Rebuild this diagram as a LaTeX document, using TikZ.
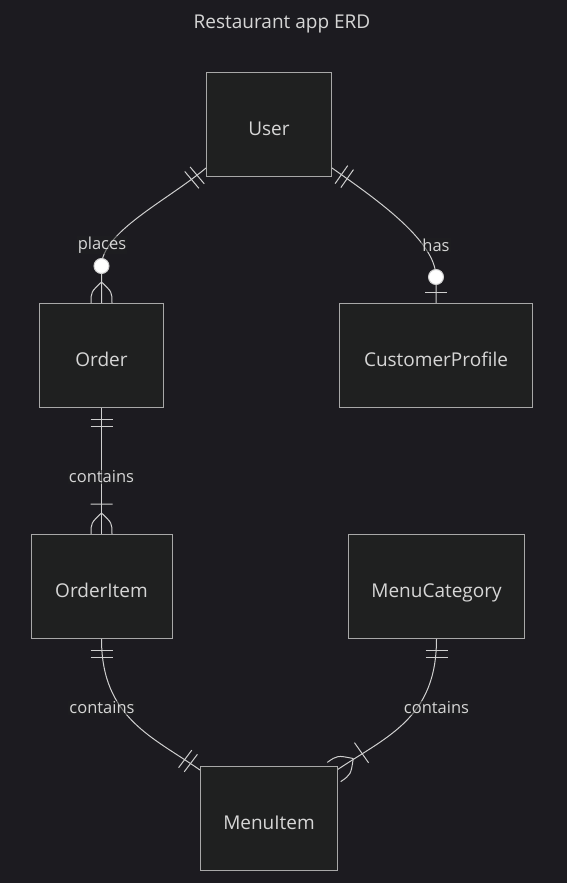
\documentclass[tikz,border=0pt]{standalone}
\usepackage{fontspec}
\setmainfont{Open Sans}
\usetikzlibrary{calc}
\definecolor{canvas}{HTML}{1C1B20}
\definecolor{boxfill}{HTML}{1F2020}
\definecolor{boxline}{HTML}{A8A8A8}
\definecolor{relline}{HTML}{CFCFCF}
\definecolor{txtgrey}{HTML}{D6D6D6}
\pgfdeclarelayer{back}
\pgfdeclarelayer{edges}
\pgfsetlayers{back,edges,main}
\tikzset{
  entity/.style={draw=boxline, fill=boxfill, text=txtgrey, line width=1pt, minimum height=104pt, text height=21pt, text depth=0pt, font=\fontsize{19}{22}\selectfont},
  rel/.style={draw=relline, line width=1pt},
  rellabel/.style={fill=boxfill, fill opacity=0.5, text opacity=1, text=txtgrey, inner sep=1pt, font=\fontsize{16.5}{19}\selectfont},
  onlyone/.pic={\draw[rel] (11.5,-11) -- (11.5,11) (18.5,-11) -- (18.5,11);},
  zeroone/.pic={\draw[rel] (11,-11) -- (11,11); \draw[rel, fill=white] (26,0) circle (7.5pt);},
  onemany/.pic={\draw[rel] (30,-11) -- (30,11) (21,0) .. controls (11,10.5) .. (0,10.5) (21,0) .. controls (11,-10.5) .. (0,-10.5);},
  zeromany/.pic={\draw[rel] (21,0) .. controls (11,10.5) .. (0,10.5) (21,0) .. controls (11,-10.5) .. (0,-10.5); \draw[rel, fill=white] (37,0) circle (7.5pt);}
}

\begin{document}
\begin{tikzpicture}[x=1pt, y=1pt]
    \useasboundingbox (0,0) rectangle (567,-883);
    \begin{pgfonlayer}{back}
    \fill[canvas] (0,0) rectangle (567,-883);
    \end{pgfonlayer}

    \node[text=txtgrey, font=\fontsize{19}{23}\selectfont] at (282,-24) (title) {Restaurant app ERD};

    \node[entity, minimum width=125pt] at (269,-124.5) (User) {User};
    \node[entity, minimum width=124pt] at (101.5,-355.5) (Order) {Order};
    \node[entity, minimum width=193pt] at (436,-355.5) (CustomerProfile) {CustomerProfile};
    \node[entity, minimum width=141pt] at (101.5,-586.5) (OrderItem) {OrderItem};
    \node[entity, minimum width=176pt] at (436.5,-586.5) (MenuCategory) {MenuCategory};
    \node[entity, minimum width=137pt] at (269,-818.5) (MenuItem) {MenuItem};

    \begin{pgfonlayer}{edges}
    % User -- Order
    \coordinate (uo) at ($(User.south west)+(0,9)$);
    \draw[rel] (uo) .. controls (168,-200) and (101.5,-232) .. (101.5,-266) -- (Order.north);
    \pic[rotate=220] at (uo) {onlyone};
    \pic[rotate=90] at (Order.north) {zeromany};

    % User -- CustomerProfile
    \coordinate (uc) at ($(User.south east)+(0,9)$);
    \draw[rel] (uc) .. controls (373,-197) and (436,-240) .. (436,-277) -- (CustomerProfile.north);
    \pic[rotate=-35] at (uc) {onlyone};
    \pic[rotate=90] at (CustomerProfile.north) {zeroone};

    % Order -- OrderItem
    \draw[rel] (Order.south) -- (Order.south |- OrderItem.north);
    \pic[rotate=-90] at (Order.south) {onlyone};
    \pic[rotate=90] at (Order.south |- OrderItem.north) {onemany};

    % OrderItem -- MenuItem
    \coordinate (im) at ($(MenuItem.north west)+(0,-4)$);
    \draw[rel] (OrderItem.south) .. controls (101.5,-718) and (153,-737) .. (im);
    \pic[rotate=-90] at (OrderItem.south) {onlyone};
    \pic[rotate=143] at (im) {onlyone};

    % MenuCategory -- MenuItem
    \coordinate (cm) at ($(MenuItem.north east)+(-4,-6)$);
    \draw[rel] (MenuCategory.south) .. controls (436.5,-720) and (385,-737) .. (cm);
    \pic[rotate=-90] at (MenuCategory.south) {onlyone};
    \pic[rotate=35, scale=1.12] at (cm) {onemany};
    \end{pgfonlayer}

    \node[rellabel] at (102,-245) (places) {places};
    \node[rellabel] at (436,-245) (has) {has};
    \node[rellabel] at (101.5,-477) (contains1) {contains};
    \node[rellabel] at (102,-708) (contains2) {contains};
    \node[rellabel] at (436.5,-708) (contains3) {contains};
\end{tikzpicture}
\end{document}
